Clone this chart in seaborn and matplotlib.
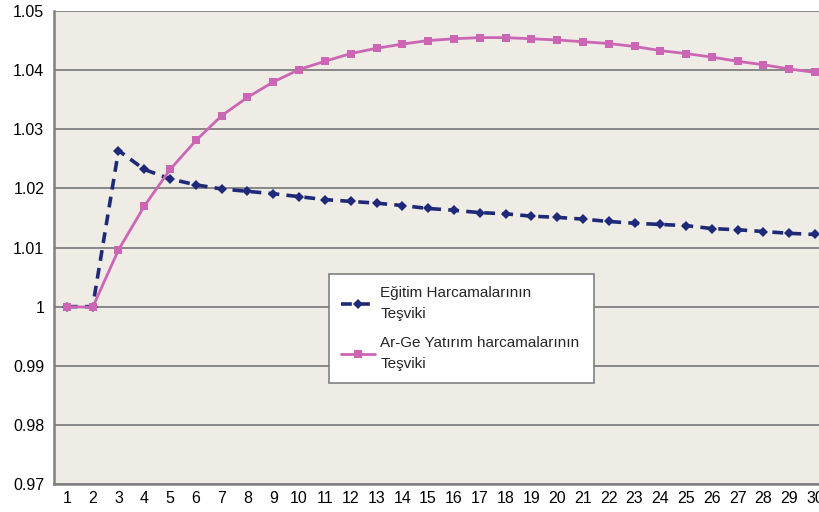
import matplotlib
matplotlib.use("Agg")
import matplotlib.pyplot as plt
import seaborn as sns
import numpy as np
from matplotlib.ticker import FuncFormatter, FixedLocator

periods = list(range(1, 31))
egitim = [1.0000, 1.0000, 1.0264, 1.0232, 1.0216, 1.0206, 1.0199, 1.0195, 1.0191, 1.0186,
          1.0181, 1.0178, 1.0175, 1.0171, 1.0166, 1.0163, 1.0159, 1.0157, 1.0153, 1.0151,
          1.0148, 1.0144, 1.0141, 1.0139, 1.0137, 1.0132, 1.0130, 1.0127, 1.0124, 1.0122]
arge = [1.0000, 0.9999, 1.0096, 1.0170, 1.0232, 1.0281, 1.0323, 1.0354, 1.0380, 1.0401,
        1.0415, 1.0428, 1.0437, 1.0444, 1.0450, 1.0453, 1.0455, 1.0455, 1.0453, 1.0451,
        1.0448, 1.0445, 1.0440, 1.0433, 1.0428, 1.0422, 1.0415, 1.0409, 1.0402, 1.0396]
label_egitim = "Eğitim Harcamalarının\nTeşviki"
label_arge = "Ar-Ge Yatırım harcamalarının\nTeşviki"
yticks = [0.97, 0.98, 0.99, 1.00, 1.01, 1.02, 1.03, 1.04, 1.05]

sns.set_theme(style="white")
plt.rcParams['font.family'] = ['Liberation Sans', 'DejaVu Sans']

fig = plt.figure(figsize=(8.2, 5.12), dpi=100)
fig.patch.set_facecolor('white')
ax = fig.add_axes([54/820, 1 - 484/512, 774/820, 473/512])
ax.set_facecolor('#EFECE5')

sns.lineplot(x=periods, y=egitim, ax=ax, color='#1E2A78', linewidth=2.6,
             linestyle=(0, (3.0, 2.0)), marker='D', markersize=4.6,
             markeredgewidth=0, label=label_egitim)
sns.lineplot(x=periods, y=arge, ax=ax, color='#CC66B4', linewidth=2.0,
             marker='s', markersize=5.2, markeredgewidth=0, label=label_arge)

ax.set_xlim(0.5, 30.5)
ax.set_ylim(0.97, 1.05)
ax.set_xlabel('')
ax.set_ylabel('')

ax.yaxis.set_major_locator(FixedLocator(yticks))
ax.yaxis.set_major_formatter(FuncFormatter(lambda v, p: f"{v:g}"))
ax.set_xticks(periods)
ax.set_xticks([p + 0.5 for p in [0] + periods], minor=True)
ax.tick_params(axis='x', which='major', length=0, labelsize=11.5, pad=5, colors='black')
ax.tick_params(axis='x', which='minor', length=3.5, width=1.2, color='#808080', direction='out')
ax.tick_params(axis='y', which='major', length=4, width=1.2, color='#808080',
               direction='out', labelsize=11.5, pad=3, labelcolor='black')

ax.grid(axis='y', color='#878787', linewidth=1.4)
ax.set_axisbelow(True)
for s in ['top', 'right']:
    ax.spines[s].set_visible(False)
for s in ['left', 'bottom']:
    ax.spines[s].set_color('#808080')
    ax.spines[s].set_linewidth(1.8)

leg = ax.legend(loc='upper left',
                bbox_to_anchor=(329/820, 1 - 380/512, 265/820, 106/512),
                mode='expand',
                bbox_transform=fig.transFigure, borderaxespad=0, frameon=True,
                fancybox=False, fontsize=11, handlelength=2.2, labelspacing=1.0,
                borderpad=0.8, handletextpad=0.35)
frame = leg.get_frame()
frame.set_facecolor('white')
frame.set_edgecolor('#808080')
frame.set_linewidth(1.2)
frame.set_alpha(1)
for t in leg.get_texts():
    t.set_linespacing(1.6)

fig.savefig('out.png', dpi=100)
